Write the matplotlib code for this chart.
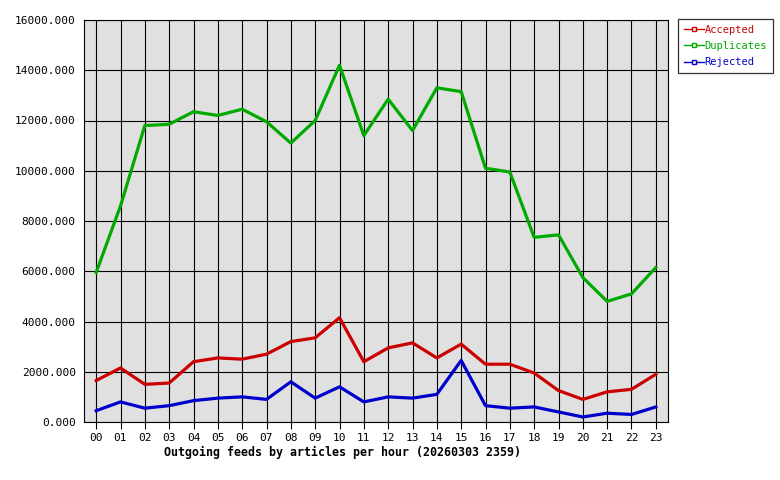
import matplotlib
matplotlib.use('Agg')
import matplotlib.pyplot as plt
from matplotlib.lines import Line2D
from matplotlib.ticker import FormatStrFormatter

hours = ["%02d" % h for h in range(24)]
duplicates = [5950, 8600, 11800, 11850, 12350, 12200, 12450, 11950, 11100, 12000, 14200, 11400,
              12850, 11600, 13300, 13150, 10100, 9950, 7350, 7450, 5750, 4800, 5100, 6150]
accepted = [1650, 2150, 1500, 1550, 2400, 2550, 2500, 2700, 3200, 3350, 4150, 2400,
            2950, 3150, 2550, 3100, 2300, 2300, 1950, 1250, 900, 1200, 1300, 1900]
rejected = [450, 800, 550, 650, 850, 950, 1000, 900, 1600, 950, 1400, 800,
            1000, 950, 1100, 2450, 650, 550, 600, 400, 200, 350, 300, 600]

series = [("Accepted", accepted, "#cc0000"),
          ("Duplicates", duplicates, "#00aa00"),
          ("Rejected", rejected, "#0000cc")]

plt.rcParams['font.family'] = ['DejaVu Sans Mono']

fig = plt.figure(figsize=(7.8, 4.8), dpi=100)
ax = fig.add_axes([84/780, 1-422/480, 584/780, 402/480])
ax.set_facecolor("#e0e0e0")

x = list(range(len(hours)))
for name, vals, col in series:
    ax.plot(x, vals, color=col, lw=2.3, zorder=3)

ax.set_xlim(-0.5, 23.5)
ax.set_ylim(0, 16000)
ax.set_xticks(x)
ax.set_xticklabels(hours, fontsize=8)
ax.set_yticks(range(0, 16001, 2000))
ax.yaxis.set_major_formatter(FormatStrFormatter('%.3f'))
ax.tick_params(axis='y', length=0, labelsize=8, pad=6)
ax.tick_params(axis='x', length=5, width=0.8, pad=3)
ax.grid(True, color='black', lw=0.8, zorder=1)
ax.set_axisbelow(True)
for s in ax.spines.values():
    s.set_linewidth(0.8)

fig.text(343/780, 1-452/480, "Outgoing feeds by articles per hour (20260303 2359)",
         fontsize=8.4, fontweight='bold', ha='center', va='center')

handles = [Line2D([], [], color=col, lw=1, marker='s', markersize=2.5,
                  markerfacecolor='white', markeredgecolor=col)
           for _, _, col in series]
leg = fig.legend(handles, [s[0] for s in series], loc='upper left',
                 bbox_to_anchor=(678/780, 1-19/480), fontsize=7.5,
                 labelcolor=[s[2] for s in series], frameon=True, fancybox=False,
                 edgecolor='black', handlelength=1.9, handletextpad=0.1,
                 borderpad=0.55, labelspacing=0.6, borderaxespad=0)
leg.get_frame().set_linewidth(0.9)

fig.savefig("out.png", dpi=100)
